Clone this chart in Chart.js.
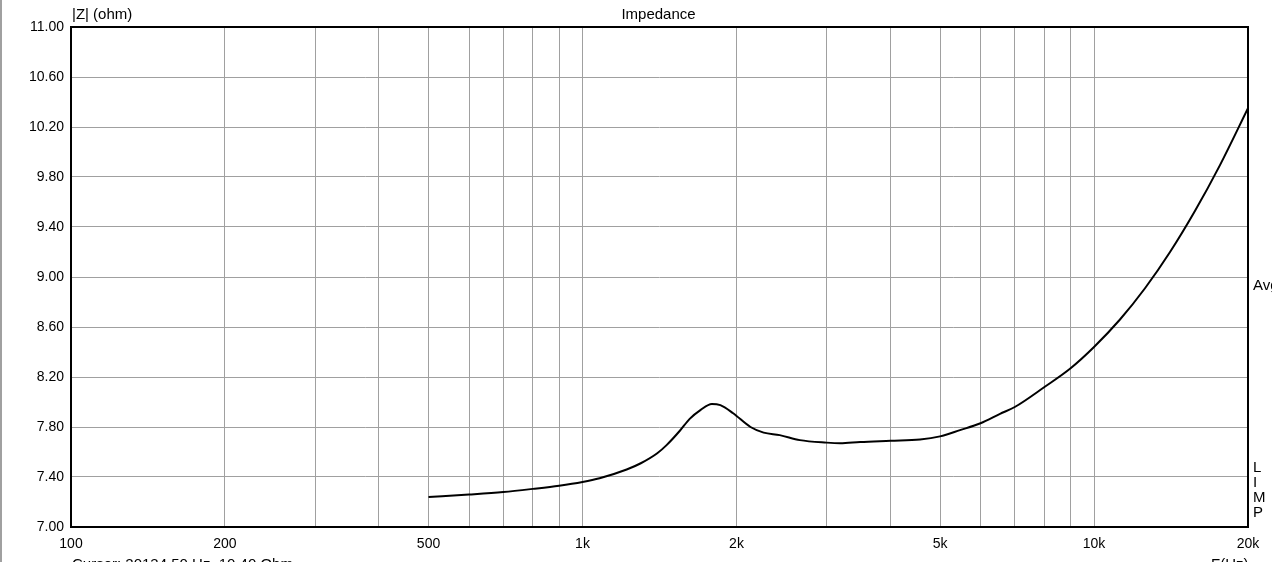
<!DOCTYPE html>
<html>
<head>
<meta charset="utf-8">
<script src="https://cdn.jsdelivr.net/npm/chart.js@4/dist/chart.umd.min.js"></script>
<style>
  html, body { margin: 0; padding: 0; background: #fff; overflow: hidden; }
  canvas { display: block; }
</style>
</head>
<body>
<canvas id="chart" width="1272" height="562"></canvas>
<script>
const freqs = [500, 600, 700, 800, 900, 1000, 1080, 1220, 1300, 1400, 1460, 1550, 1620, 1700, 1790, 1860, 1970, 2130, 2260, 2430, 2660, 3000, 3190, 3490, 4000, 4570, 5000, 5470, 6000, 6550, 7000, 8000, 9000, 10000, 11240, 12580, 14080, 15760, 17630, 20000];
const impedance = [7.24, 7.26, 7.28, 7.305, 7.33, 7.36, 7.39, 7.46, 7.51, 7.59, 7.655, 7.77, 7.865, 7.935, 7.985, 7.975, 7.91, 7.80, 7.755, 7.735, 7.695, 7.675, 7.67, 7.68, 7.69, 7.70, 7.725, 7.775, 7.83, 7.905, 7.96, 8.12, 8.27, 8.44, 8.66, 8.91, 9.20, 9.53, 9.895, 10.35];

// líneas de rejilla y etiquetas de ejes
const xGridFreqs = [100, 200, 300, 400, 500, 600, 700, 800, 900, 1000, 2000, 3000, 4000, 5000, 6000, 7000, 8000, 9000, 10000, 20000];
const xLabelFreqs = [100, 200, 500, 1000, 2000, 5000, 10000, 20000];
const xLabelTexts = ['100', '200', '500', '1k', '2k', '5k', '10k', '20k'];
const yTicks = [7.0, 7.4, 7.8, 8.2, 8.6, 9.0, 9.4, 9.8, 10.2, 10.6, 11.0];
const sideLetters = ['L', 'I', 'M', 'P'];

const FONT = 'Liberation Sans, Arial, sans-serif';
const TEXT_COLOR = '#000';
const GRID_COLOR = '#a0a0a0';

const points = freqs.map((f, i) => ({ x: f, y: impedance[i] }));

// dibuja el marco y los textos fijos
const decorPlugin = {
  id: 'decor',
  afterDraw(chart) {
    const { ctx, chartArea } = chart;
    ctx.save();
    // borde gris de la ventana
    ctx.fillStyle = '#a0a0a0';
    ctx.fillRect(0, 0, 2, chart.height);
    // marco negro del área de trazado
    ctx.strokeStyle = '#000';
    ctx.lineWidth = 2;
    ctx.strokeRect(chartArea.left, chartArea.top, chartArea.right - chartArea.left, chartArea.bottom - chartArea.top);

    ctx.fillStyle = TEXT_COLOR;
    ctx.font = '15px ' + FONT;
    ctx.textBaseline = 'middle';
    ctx.textAlign = 'left';
    ctx.fillText('|Z| (ohm)', chartArea.left + 1, 15);
    ctx.textAlign = 'center';
    ctx.fillText('Impedance', (chartArea.left + chartArea.right) / 2 - 1, 15);

    ctx.textAlign = 'left';
    ctx.fillText('Avg', chartArea.right + 5, 286);
    sideLetters.forEach((ch, i) => {
      ctx.fillText(ch, chartArea.right + 5, 468 + i * 15);
    });

    ctx.textBaseline = 'top';
    ctx.fillText('Cursor: 20134.50 Hz, 10.40 Ohm', chartArea.left + 1, 557);
    ctx.fillText('F(Hz)', 1211, 557);
    ctx.restore();
  }
};

new Chart(document.getElementById('chart'), {
  type: 'line',
  data: {
    datasets: [{
      label: 'Impedance',
      data: points,
      borderColor: '#000',
      borderWidth: 2,
      pointRadius: 0,
      fill: false,
      cubicInterpolationMode: 'monotone'
    }]
  },
  options: {
    responsive: false,
    animation: false,
    layout: { padding: { top: 27, right: 24, left: 0, bottom: 0 } },
    plugins: {
      legend: { display: false },
      tooltip: { enabled: false },
      title: { display: false }
    },
    scales: {
      x: {
        type: 'logarithmic',
        min: 100,
        max: 20000,
        afterFit: (s) => { s.height = 35; },
        afterBuildTicks: (s) => { s.ticks = xGridFreqs.map(v => ({ value: v })); },
        grid: { color: GRID_COLOR, lineWidth: 1, drawTicks: false },
        border: { display: false },
        ticks: {
          autoSkip: false,
          maxRotation: 0,
          minRotation: 0,
          padding: 9,
          color: TEXT_COLOR,
          font: { family: FONT, size: 14 },
          callback: (value) => {
            const idx = xLabelFreqs.indexOf(Math.round(value));
            return idx >= 0 ? xLabelTexts[idx] : '';
          }
        }
      },
      y: {
        type: 'linear',
        min: 7,
        max: 11,
        afterFit: (s) => { s.width = 71; },
        afterBuildTicks: (s) => { s.ticks = yTicks.map(v => ({ value: v })); },
        grid: { color: GRID_COLOR, lineWidth: 1, drawTicks: false },
        border: { display: false },
        ticks: {
          padding: 7,
          color: TEXT_COLOR,
          font: { family: FONT, size: 14 },
          callback: (value) => Number(value).toFixed(2)
        }
      }
    }
  },
  plugins: [decorPlugin]
});
</script>
</body>
</html>
